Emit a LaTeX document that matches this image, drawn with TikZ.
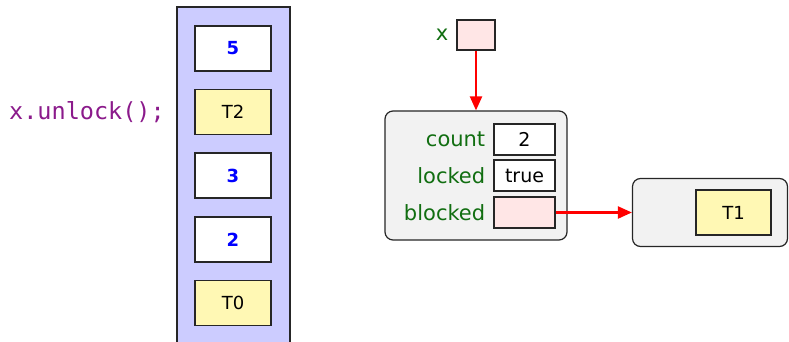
\documentclass[tikz,border=0pt]{standalone}
\usepackage{fontspec}
\setmainfont{DejaVu Sans}
\setmonofont{DejaVu Sans Mono}
\usepackage{xcolor}
\usetikzlibrary{arrows.meta,positioning}
\definecolor{stackbg}{HTML}{CCCCFF}
\definecolor{thrd}{HTML}{FFF8B4}
\definecolor{refbg}{HTML}{FFE6E6}
\definecolor{objbg}{HTML}{F2F2F2}
\definecolor{fldname}{HTML}{116E11}
\definecolor{codecol}{HTML}{8B1A8B}
\newcommand{\fs}[1]{\fontsize{#1}{#1}\selectfont}
\tikzset{
  cell/.style={draw=black!85,line width=1.2pt,minimum width=76pt,minimum height=45pt,
               inner sep=0pt,fill=white,font=\fs{18}},
  num/.style={cell,text=blue,font=\fs{18}\bfseries},     % Zahl auf dem Stack
  thr/.style={cell,fill=thrd},                            % Thread
  fld/.style={draw=black!85,line width=1.2pt,minimum width=61pt,minimum height=31pt,
              inner sep=0pt,fill=white,font=\fs{19}},
  ref/.style={fld,fill=refbg},                            % Referenz
  obj/.style={draw=black!85,line width=1.2pt,rounded corners=8pt,fill=objbg,inner sep=0pt},
  lbl/.style={text=fldname,font=\fs{21},inner sep=0pt},
  ptr/.style={-{Triangle[length=14pt,width=12pt]},red,line width=2.2pt}
}

\begin{document}
\begin{tikzpicture}[x=1pt,y=-1pt]
  \useasboundingbox (0,0) rectangle (789,342);
  % Stack
  \node[draw=black!85,line width=1.2pt,fill=stackbg,minimum width=113pt,minimum height=346pt,
        inner sep=0pt] (stack) at (233.5,180) {};
  \node[num] (s4) at (233,48.5)  {5};
  \node[thr] (s3) at (233,112)   {T2};
  \node[num] (s2) at (233,175.5) {3};
  \node[num] (s1) at (233,239.5) {2};
  \node[thr] (s0) at (233,303)   {T0};
  \node[text=codecol,font=\ttfamily\fs{23.5},anchor=east,inner sep=0pt] (code) at (165,112) {x.unlock();};

  % Variable x
  \node[ref,minimum width=38pt,minimum height=30pt] (xvar) at (476,35) {};
  \node[lbl,left=8pt of xvar] (xlbl) {x};

  % Lock-Objekt
  \node[obj,minimum width=182pt,minimum height=129pt] (lock) at (476,175.5) {};
  \node[fld] (count)   at (524.5,139.5) {2};
  \node[fld] (locked)  at (524.5,175.5) {true};
  \node[ref] (blocked) at (524.5,212.5) {};
  \node[lbl,left=8pt of count]   (countlbl)   {count};
  \node[lbl,left=8pt of locked]  (lockedlbl)  {locked};
  \node[lbl,left=8pt of blocked] (blockedlbl) {blocked};

  % Warteschlange
  \node[obj,minimum width=155pt,minimum height=68pt] (queue) at (710,212.5) {};
  \node[thr,minimum width=75pt] (q0) at (733.5,212.5) {T1};

  \draw[ptr] (xvar.south) -- (lock.north);
  \draw[ptr] (blocked.east) -- (queue.west);
\end{tikzpicture}
\end{document}
